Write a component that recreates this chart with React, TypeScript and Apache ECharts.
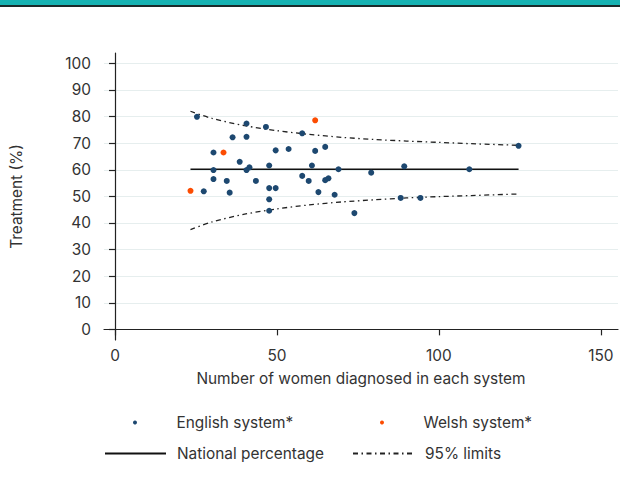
import React, { useEffect, useRef } from "react";
import * as echarts from "echarts";

// [number of women diagnosed, treatment %]
const englishSystems: [number, number][] = [
  [25.3, 79.9], [40.6, 77.4], [46.6, 76.1], [57.8, 73.7], [36.3, 72.2],
  [40.6, 72.4], [30.4, 66.5], [49.6, 67.3], [53.6, 67.8], [61.8, 67.1],
  [64.9, 68.6], [38.5, 63.0], [30.4, 59.9], [40.6, 59.9], [41.5, 60.9],
  [47.6, 61.6], [60.8, 61.6], [69.0, 60.2], [79.1, 58.9], [30.4, 56.5],
  [34.5, 55.8], [43.5, 55.8], [57.8, 57.7], [59.8, 55.8], [64.9, 56.1],
  [65.9, 56.8], [27.4, 51.9], [35.4, 51.4], [47.6, 53.1], [49.6, 53.1],
  [62.8, 51.6], [67.8, 50.6], [47.6, 48.9], [47.6, 44.6], [73.9, 43.7],
  [89.3, 61.3], [109.4, 60.2], [124.6, 69.0], [88.2, 49.4], [94.3, 49.4],
];
const welshSystems: [number, number][] = [
  [23.3, 52.1], [33.5, 66.5], [61.8, 78.6],
];
const nationalPercentage = 60.2;
const nationalRange = [23.3, 124.6];
const limitN = [23.3, 30, 40, 50, 60, 70, 80, 90, 100, 110, 124.6];
const upperLimit = [82.0, 79.3, 76.6, 74.7, 73.3, 72.2, 71.4, 70.8, 70.3, 69.8, 69.2];
const lowerLimit = [37.5, 40.4, 43.3, 45.3, 46.8, 47.9, 48.7, 49.4, 49.9, 50.3, 50.9];
const xTicks = [0, 50, 100, 150];
const yTicks = [0, 10, 20, 30, 40, 50, 60, 70, 80, 90, 100];

const FONT = "Inter";
const TEXT = "#333333";
const NAVY = "#1d4870";
const ORANGE = "#fc4c02";
const DASHDOT = [5, 3.5, 1.5, 3.5];
const FS = 15.4;

export default function App() {
  const ref = useRef<HTMLDivElement>(null);
  useEffect(() => {
    if (!ref.current) return;
    const chart = echarts.init(ref.current, undefined, { renderer: "svg" });
    const legendBase = {
      orient: "horizontal" as const,
      padding: 0,
      itemWidth: 61,
      itemHeight: 4,
      textStyle: { fontFamily: FONT, fontSize: FS, color: TEXT, padding: [0, 0, 0, 6] },
      selectedMode: false,
    };
    const lineLegend = { ...legendBase, itemStyle: { opacity: 0 } };
    chart.setOption({
      animation: false,
      textStyle: { fontFamily: FONT },
      graphic: [
        { type: "rect", left: 0, top: 0, shape: { width: 620, height: 5 }, style: { fill: "#17b3b3" } },
        { type: "rect", left: 0, top: 5, shape: { width: 620, height: 2 }, style: { fill: "#1c2b2b" } },
      ],
      grid: { left: 104, top: 53, right: 2, bottom: 157 },
      legend: [
        { ...legendBase, left: 133, top: 415, data: [{ name: "English system*", icon: "circle" }] },
        { ...legendBase, left: 380, top: 415, data: [{ name: "Welsh system*", icon: "circle" }] },
        { ...lineLegend, left: 104, top: 446, data: ["National percentage"] },
        { ...lineLegend, left: 352, top: 446, data: ["95% limits"] },
      ],
      xAxis: {
        type: "value",
        min: -3.4,
        max: 155.3,
        name: "Number of women diagnosed in each system",
        nameLocation: "middle",
        nameGap: 31,
        nameTextStyle: { fontFamily: FONT, fontSize: FS, color: TEXT },
        axisLine: { show: true, lineStyle: { color: "#222", width: 1.2 } },
        axisTick: { show: true, length: 6, customValues: xTicks, lineStyle: { color: "#222", width: 1.2 } },
        axisLabel: { customValues: xTicks, fontFamily: FONT, fontSize: FS, color: TEXT, margin: 8 },
        splitLine: { show: false },
      },
      yAxis: {
        type: "value",
        min: -4,
        max: 103.9,
        name: "Treatment (%)",
        nameLocation: "middle",
        nameGap: 80,
        nameRotate: 90,
        nameTextStyle: { fontFamily: FONT, fontSize: FS, color: TEXT },
        axisLine: { show: true, lineStyle: { color: "#222", width: 1.2 } },
        axisTick: { show: true, length: 6, customValues: yTicks, lineStyle: { color: "#222", width: 1.2 } },
        axisLabel: { customValues: yTicks, fontFamily: FONT, fontSize: FS, color: TEXT, margin: 13 },
        splitLine: { show: true, lineStyle: { color: "#e6eeee", width: 1 } },
      },
      series: [
        {
          name: "English system*",
          type: "scatter",
          data: englishSystems,
          symbolSize: 6,
          itemStyle: { color: NAVY, opacity: 1 },
          z: 5,
        },
        {
          name: "Welsh system*",
          type: "scatter",
          data: welshSystems,
          symbolSize: 6,
          itemStyle: { color: ORANGE, opacity: 1 },
          z: 5,
        },
        {
          name: "National percentage",
          type: "line",
          data: nationalRange.map((n) => [n, nationalPercentage]),
          symbol: "none",
          itemStyle: { color: "#111" },
          lineStyle: { color: "#111", width: 1.3 },
          z: 3,
        },
        {
          name: "95% limits",
          type: "line",
          data: limitN.map((n, i) => [n, upperLimit[i]]),
          symbol: "none",
          smooth: 0.3,
          itemStyle: { color: "#222" },
          lineStyle: { color: "#222", width: 1.3, type: DASHDOT },
          z: 3,
        },
        {
          name: "95% limits",
          type: "line",
          data: limitN.map((n, i) => [n, lowerLimit[i]]),
          symbol: "none",
          smooth: 0.3,
          itemStyle: { color: "#222" },
          lineStyle: { color: "#222", width: 1.3, type: DASHDOT },
          z: 3,
        },
      ],
    });
    return () => chart.dispose();
  }, []);
  return <div ref={ref} style={{ width: 620, height: 497, position: "absolute", left: 0, top: 0 }} />;
}
